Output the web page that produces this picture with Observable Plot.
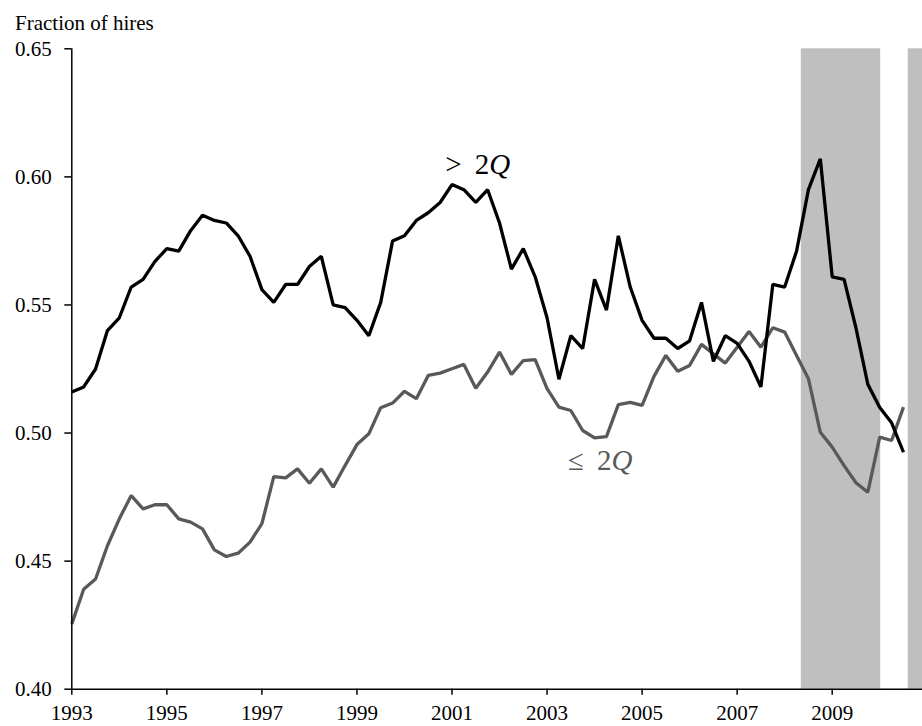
<!DOCTYPE html>
<html><head><meta charset="utf-8">
<script src="https://cdn.jsdelivr.net/npm/d3@7"></script>
<script src="https://cdn.jsdelivr.net/npm/@observablehq/plot@0.6"></script>
<style>
body{margin:0;background:#fff;}
#wrap{position:relative;width:922px;height:726px;}
#title{position:absolute;left:15px;top:13px;font-family:"Liberation Serif","Times New Roman",serif;font-size:21px;line-height:21px;color:#000;white-space:nowrap;z-index:2;}
</style></head><body>
<div id="wrap"><div id="title">Fraction of hires</div></div>
<script>
// Quarterly series starting 1993 Q1
const startYear = 1993;
const above2Q = [0.516,0.518,0.525,0.540,0.545,0.557,0.560,0.567,0.572,0.571,
  0.579,0.585,0.583,0.582,0.577,0.569,0.556,0.551,0.558,0.558,
  0.565,0.569,0.550,0.549,0.544,0.538,0.551,0.575,0.577,0.583,
  0.586,0.590,0.597,0.595,0.590,0.595,0.582,0.564,0.572,0.561,
  0.545,0.521,0.538,0.533,0.560,0.548,0.577,0.557,0.544,0.537,
  0.537,0.533,0.536,0.551,0.528,0.538,0.535,0.528,0.518,0.558,
  0.557,0.571,0.595,0.607,0.561,0.560,0.541,0.519,0.510,0.504,0.4925];
const below2Q = [0.4255,0.439,0.443,0.456,0.4665,0.4756,0.4704,0.472,0.472,0.4665,
  0.4652,0.4626,0.4544,0.4518,0.4531,0.4574,0.4646,0.483,0.4825,0.486,
  0.4804,0.486,0.4789,0.4873,0.4955,0.4997,0.5099,0.5117,0.5163,0.5134,
  0.5225,0.5234,0.5251,0.5268,0.5175,0.5238,0.5316,0.5229,0.5283,0.5287,
  0.5173,0.5101,0.5088,0.501,0.4981,0.4986,0.5111,0.512,0.5108,0.5221,
  0.5303,0.5241,0.5264,0.5346,0.5309,0.5273,0.5335,0.5396,0.5335,0.5411,
  0.5394,0.5303,0.5212,0.5003,0.4945,0.4873,0.4806,0.4769,0.4984,0.4971,0.5101];
const yearTicks = [1993,1995,1997,1999,2001,2003,2005,2007,2009];
const valueTicks = [0.40,0.45,0.50,0.55,0.60,0.65];
const xDomain = [1993, 2010.9];
const bandStarts = [2008.35, 2010.6];
const bandEnds = [2010.02, 2010.9];
const seriesLabels = ["> 2Q", "≤ 2Q"];
const labelYears = [2000.86, 2003.44];
const labelValues = [0.6013, 0.4854];

const BLACK = "#000000", GRAY = "#595959";
const rowsAbove = above2Q.map((v,i)=>({t:startYear+i*0.25, v}));
const rowsBelow = below2Q.map((v,i)=>({t:startYear+i*0.25, v}));
const bands = bandStarts.map((s,i)=>({from:s, to:bandEnds[i]}));
const labels = seriesLabels.map((s,i)=>({text:s, year:labelYears[i], value:labelValues[i], color:i===0?BLACK:GRAY}));
const yMin = valueTicks[0], yMax = valueTicks[valueTicks.length-1];

const chart = Plot.plot({
  width: 922, height: 726,
  marginLeft: 71.3, marginRight: 0, marginTop: 48.3, marginBottom: 37.3,
  style: {fontFamily: "'Liberation Serif','Times New Roman',serif", fontSize: "21px", background: "white", color: "black", overflow: "visible"},
  x: {domain: xDomain},
  y: {domain: [yMin, yMax]},
  marks: [
    Plot.rect(bands, {x1: "from", x2: "to", y1: () => yMin, y2: () => yMax, fill: "#bfbfbf"}),
    Plot.line(rowsBelow, {x: "t", y: "v", stroke: GRAY, strokeWidth: 3.3, strokeLinejoin: "miter", strokeLinecap: "butt"}),
    Plot.line(rowsAbove, {x: "t", y: "v", stroke: BLACK, strokeWidth: 3.3, strokeLinejoin: "miter", strokeLinecap: "butt"}),
    Plot.ruleX([xDomain[0]], {stroke: BLACK, strokeWidth: 1.5}),
    Plot.ruleY([yMin], {stroke: BLACK, strokeWidth: 1.5}),
    Plot.axisX({ticks: yearTicks, tickFormat: d => String(d), tickSize: 6, tickPadding: 10, strokeWidth: 1.5, label: null, fontSize: 21}),
    Plot.axisY({ticks: valueTicks, tickFormat: d3.format(".2f"), tickSize: 7, tickPadding: 13, strokeWidth: 1.5, label: null, fontSize: 21}),
    Plot.text(labels, {x: "year", y: "value", text: "text", fill: "color", textAnchor: "start", lineAnchor: "bottom", fontSize: 29, fontFamily: "'Liberation Serif','Times New Roman',serif"})
  ]
});
document.getElementById("wrap").appendChild(chart);
// italicize the Q in the series labels, widen the gap after the relation sign
chart.querySelectorAll("text").forEach(t => {
  const s = t.textContent;
  if (seriesLabels.includes(s)) {
    t.textContent = s.slice(0, 1);
    const two = document.createElementNS("http://www.w3.org/2000/svg", "tspan");
    two.setAttribute("dx", "0.45em");
    two.textContent = "2";
    const q = document.createElementNS("http://www.w3.org/2000/svg", "tspan");
    q.setAttribute("font-style", "italic");
    q.textContent = "Q";
    t.appendChild(two);
    t.appendChild(q);
  }
});
</script>
</body></html>
